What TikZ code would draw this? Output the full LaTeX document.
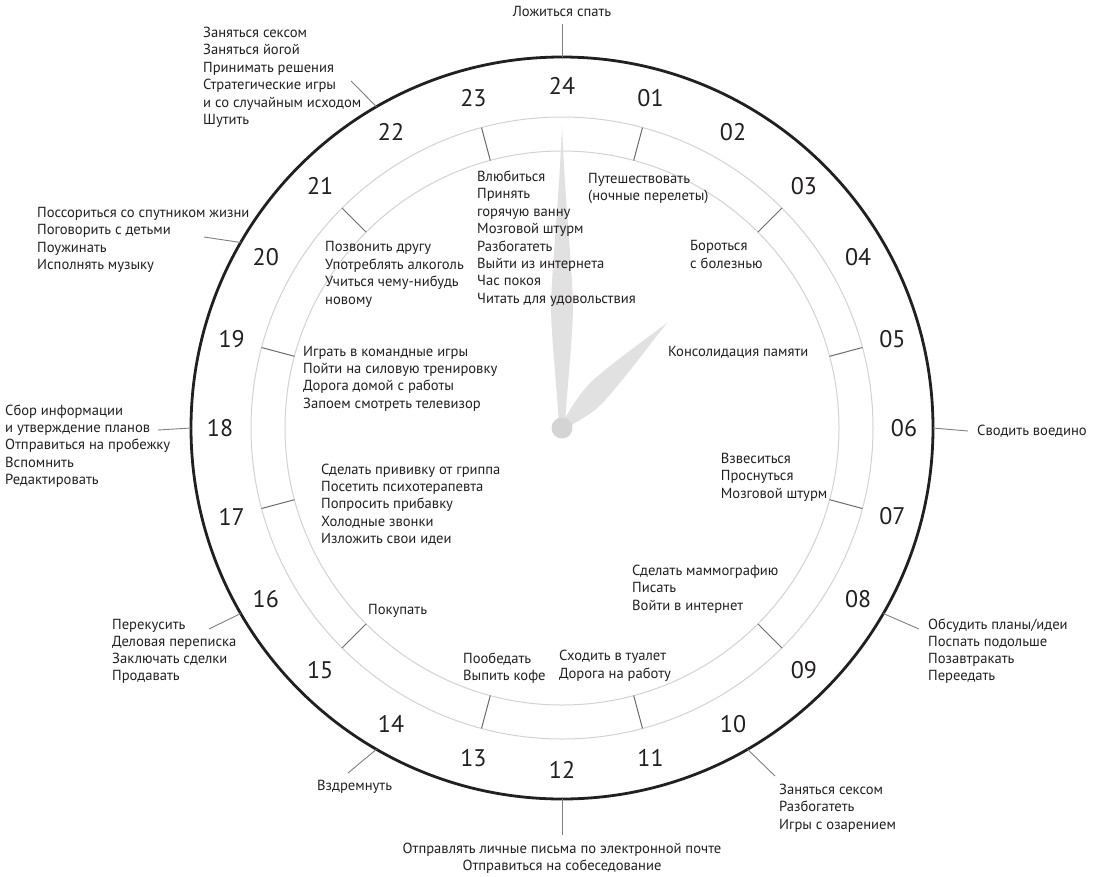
\documentclass[tikz,border=0pt]{standalone}
\usepackage{fontspec}
\setmainfont{PT Sans}
\definecolor{ink}{HTML}{231F20}
\definecolor{ringgray}{HTML}{D2D2D2}
\definecolor{tickgray}{HTML}{6A6A6A}
\definecolor{leadgray}{HTML}{7F7F7F}
\definecolor{handgray}{HTML}{E1E1E1}
\definecolor{hubgray}{HTML}{D4D4D4}
\begin{document}
\begin{tikzpicture}[x=1pt,y=-1pt,
  txt/.style={font=\fontsize{14.6}{17.4}\selectfont, text=ink, inner sep=0pt, align=left, anchor=base west},
  txtb/.style={font=\fontsize{14.6}{16.7}\selectfont, text=ink, inner sep=0pt, align=left, anchor=base west},
  ctxt/.style={font=\fontsize{14.6}{17}\selectfont, text=ink, inner sep=0pt, align=center, anchor=base},
  num/.style={font=\fontsize{24}{24}\selectfont, text=ink, inner sep=0pt},
  ring/.style={draw=ringgray, line width=1pt},
  tickline/.style={draw=tickgray, line width=1pt},
  leader/.style={draw=leadgray, line width=0.9pt},
  handshape/.style={fill=handgray, draw=none}]
\useasboundingbox (0,0) rectangle (1101,876);
\coordinate (O) at (562,428);
% rings
\draw[ring] (O) circle[radius=311];
\draw[ring] (O) circle[radius=277];
\draw[line width=2.8pt, draw=ink] (O) circle[radius=371];
% ticks at odd hours
\foreach \h in {1,3,...,23} {
  \coordinate (ta\h) at ([shift={({15*\h-90}:277)}]O);
  \coordinate (tb\h) at ([shift={({15*\h-90}:311)}]O);
  \draw[tickline] (ta\h) -- (tb\h);
}
% hour numbers
\foreach \h/\l in {1/01,2/02,3/03,4/04,5/05,6/06,7/07,8/08,9/09,10/10,11/11,12/12,13/13,14/14,15/15,16/16,17/17,18/18,19/19,20/20,21/21,22/22,23/23,24/24}
  \node[num] (h\h) at ([shift={({15*\h-90}:342)}]O) {\l};
% hands
\begin{scope}[shift={(O)}, rotate=90]
\fill[handshape] (4,-3) .. controls (50,-6) and (95,-11) .. (122,-11) .. controls (165,-10) and (225,-3) .. (303,0) .. controls (225,3) and (165,10) .. (122,11) .. controls (95,11) and (50,6) .. (4,3) -- cycle;
\end{scope}
\begin{scope}[shift={(O)}, rotate=45]
\fill[handshape] (5,-4) .. controls (22,-8) and (35,-12) .. (55,-12) .. controls (85,-10) and (120,-4) .. (149,0) .. controls (120,3) and (75,10) .. (45,11) .. controls (30,11) and (20,7) .. (5,4) -- cycle;
\end{scope}
\node[circle, fill=hubgray, minimum size=21pt, inner sep=0pt] (hub) at (O) {};
% outer leaders
\foreach \n/\a in {24/270,22/240,20/210,18/180,16/150,14/120,12/90,10/60,8/30,6/0}
  \coordinate (c\n) at ([shift={(\a:371)}]O);
\coordinate (e24) at (562,24);
\coordinate (e22) at (351,81);
\coordinate (e20) at (204,237);
\coordinate (e18) at (158,430);
\coordinate (e16) at (209,629);
\coordinate (e14) at (348,773);
\coordinate (e12) at (562,835);
\coordinate (e10) at (775,776);
\coordinate (e8) at (919,629);
\coordinate (e6) at (968,431);
\foreach \n in {24,22,20,18,16,14,12,10,8,6}
  \draw[leader] (c\n) -- (e\n);
% outer texts (anchor = baseline of the last line)
\node[ctxt] (t24) at (562,16) {Ложиться спать};
\node[txt] (t22) at (203,124.5) {Заняться сексом\\Заняться йогой\\Принимать решения\\Стратегические игры\\и со случайным исходом\\Шутить};
\node[txt] (t20) at (37,269.5) {Поссориться со спутником жизни\\Поговорить с детьми\\Поужинать\\Исполнять музыку};
\node[txt] (t18) at (5,484.6) {Сбор информации\\и утверждение планов\\Отправиться на пробежку\\Вспомнить\\Редактировать};
\node[txtb] (t16) at (112,680) {Перекусить\\Деловая переписка\\Заключать сделки\\Продавать};
\node[txt] (t14) at (317,790) {Вздремнуть};
\node[ctxt] (t12) at (562,870) {Отправлять личные письма по электронной почте\\Отправиться на собеседование};
\node[txt] (t10) at (779,829) {Заняться сексом\\Разбогатеть\\Игры с озарением};
\node[txtb] (t8) at (928,680) {Обсудить планы/идеи\\Поспать подольше\\Позавтракать\\Переедать};
\node[txt] (t6) at (977,435) {Сводить воедино};
% inner texts
\node[txt] (i24) at (477,303.3) {Влюбиться\\Принять\\горячую ванну\\Мозговой штурм\\Разбогатеть\\Выйти из интернета\\Час покоя\\Читать для удовольствия};
\node[txt] (i2) at (588,200.4) {Путешествовать\\(ночные перелеты)};
\node[txt] (i4) at (690,268) {Бороться\\с болезнью};
\node[txt] (i5) at (668,356) {Консолидация памяти};
\node[txt] (i6) at (720.7,498) {Взвеситься\\Проснуться\\Мозговой штурм};
\node[txt] (i8) at (632,610) {Сделать маммографию\\Писать\\Войти в интернет};
\node[txt] (i11) at (559,678) {Сходить в туалет\\Дорога на работу};
\node[txt] (i13) at (463,680.4) {Пообедать\\Выпить кофе};
\node[txt] (i15) at (368,614) {Покупать};
\node[txt] (i17) at (321,543.6) {Сделать прививку от гриппа\\Посетить психотерапевта\\Попросить прибавку\\Холодные звонки\\Изложить свои идеи};
\node[txt] (i19) at (303,408.2) {Играть в командные игры\\Пойти на силовую тренировку\\Дорога домой с работы\\Запоем смотреть телевизор};
\node[txt] (i21) at (325,304) {Позвонить другу\\Употреблять алкоголь\\Учиться чему-нибудь\\новому};
\end{tikzpicture}
\end{document}
